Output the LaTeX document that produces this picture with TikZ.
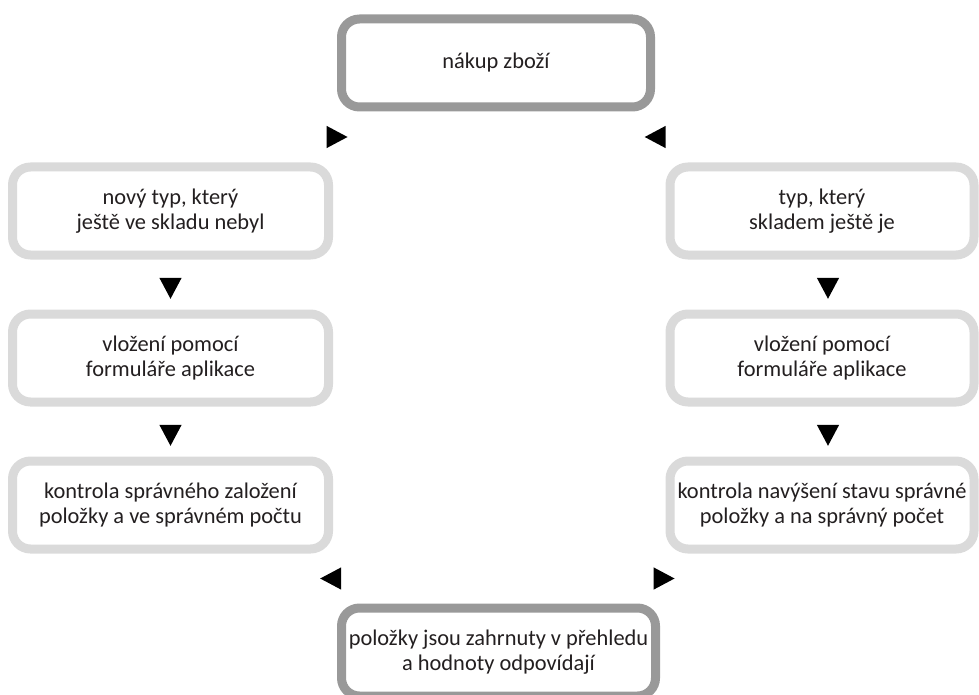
\documentclass[tikz,border=0pt]{standalone}
\usepackage{fontspec}
\setmainfont{Carlito}
\usetikzlibrary{positioning,shapes.geometric}
\definecolor{ink}{RGB}{35,31,32}
\definecolor{darkrim}{RGB}{153,153,153}
\definecolor{lightrim}{RGB}{218,218,218}

\begin{document}
\begin{tikzpicture}[x=1pt,y=-1pt,
  every node/.style={font=\fontsize{22.4}{25.5}\selectfont,text=ink},
  box/.style={draw=lightrim,line width=9pt,rounded corners=18pt,fill=white,minimum width=316pt,minimum height=88pt,align=center,inner sep=0pt},
  mainbox/.style={box,draw=darkrim,minimum width=309pt},
  marker/.style={isosceles triangle,isosceles triangle apex angle=56,fill=black,inner sep=0pt,minimum width=21pt,minimum height=21pt}
]
\useasboundingbox (0,0) rectangle (979,695);
\node[mainbox] (buy) at (496,63) {nákup zboží};
% left branch
\node[box] (newtype) at (170.5,211) {nový typ, který\\ještě ve skladu nebyl};
\node[box,below=50pt of newtype] (leftform) {vložení pomocí\\formuláře aplikace};
\node[box,below=50pt of leftform] (leftcheck) {kontrola správného založení\\položky a ve správném počtu};
% right branch
\node[box,minimum width=304pt] (oldtype) at (822,211) {typ, který\\skladem ještě je};
\node[box,minimum width=304pt,below=50pt of oldtype] (rightform) {vložení pomocí\\formuláře aplikace};
\node[box,minimum width=304pt,below=50pt of rightform] (rightcheck) {kontrola navýšení stavu správné\\položky a na správný počet};
\node[mainbox,minimum width=314pt] (overview) at (498.5,652) {položky jsou zahrnuty v přehledu\\a hodnoty odpovídají};
% markers
\path (buy.center) -- node[marker] {} (newtype.center);
\path (buy.center) -- node[marker,shape border rotate=180] {} (oldtype.center);
\path (newtype.center) -- node[marker,shape border rotate=270] {} (leftform.center);
\path (leftform.center) -- node[marker,shape border rotate=270] {} (leftcheck.center);
\path ([xshift=6pt]oldtype.center) -- node[marker,shape border rotate=270] {} ([xshift=6pt]rightform.center);
\path ([xshift=6pt]rightform.center) -- node[marker,shape border rotate=270] {} ([xshift=6pt]rightcheck.center);
\path (leftcheck.center) -- node[marker,shape border rotate=180] {} (overview.center);
\path (rightcheck.center) -- node[marker] {} (overview.center);
\end{tikzpicture}
\end{document}
